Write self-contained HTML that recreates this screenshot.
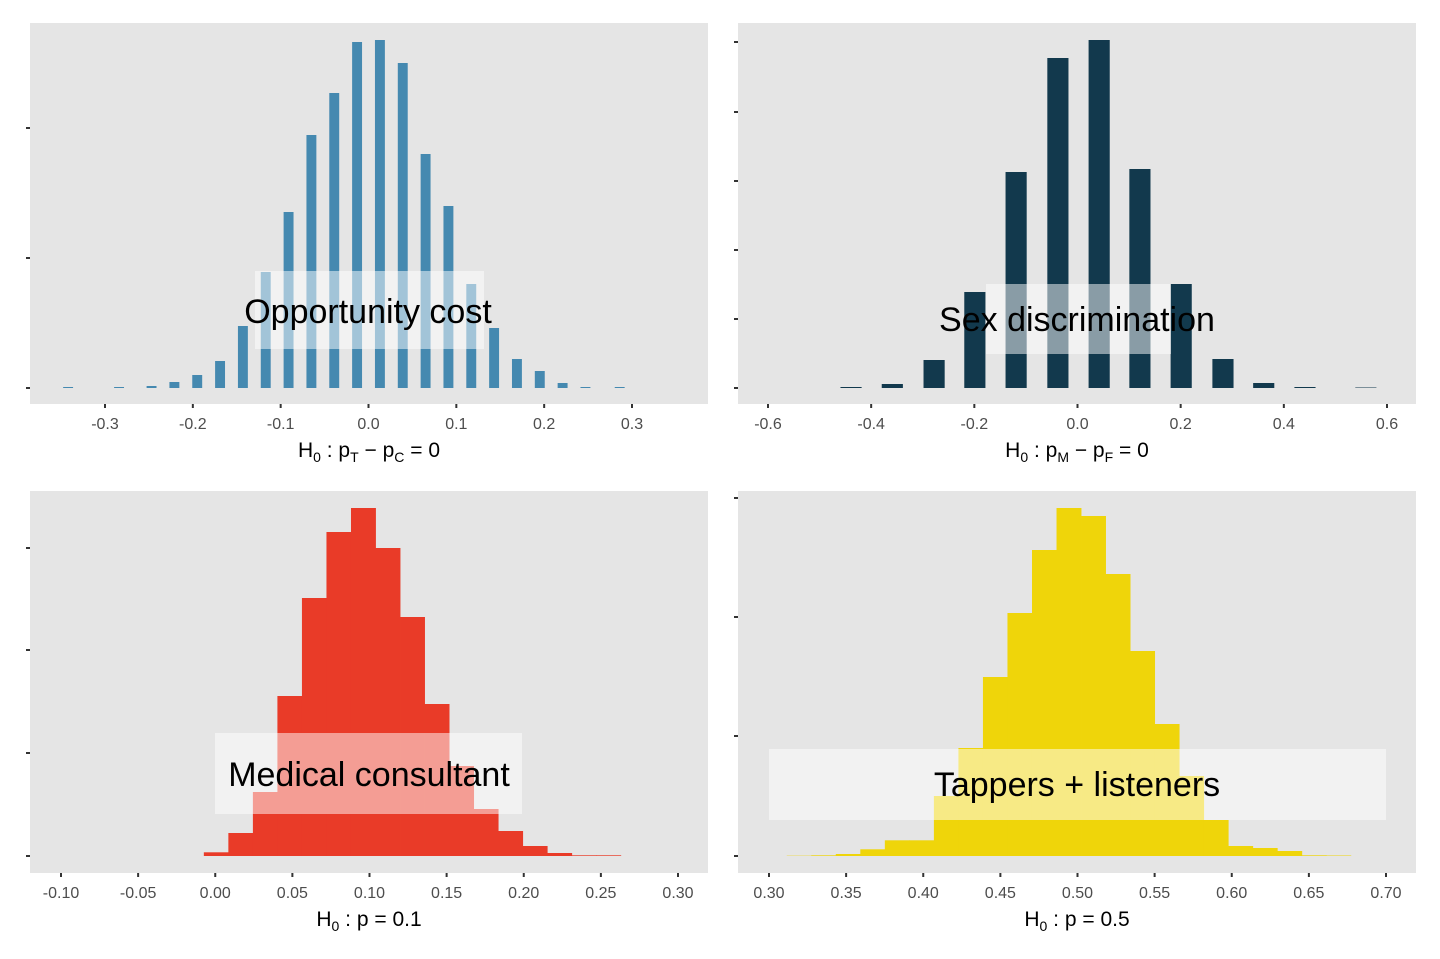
<!DOCTYPE html>
<html><head><meta charset="utf-8">
<style>
body{margin:0;background:#fff;}
svg{display:block;font-family:"Liberation Sans",Arial,sans-serif;}
.tick{fill:#4d4d4d;font-size:16px;}
.title{fill:#000;font-size:21px;}
.lab{fill:#000;font-size:34px;}
</style></head>
<body>
<svg id="chart" width="1440" height="959" viewBox="0 0 1440 959"></svg>
<script>
// ---- Panel 1: Opportunity cost (bar centers, heights)
const oppX = [-0.342,-0.284,-0.247,-0.221,-0.195,-0.169,-0.143,-0.117,-0.091,-0.065,-0.039,-0.013,0.013,0.039,0.065,0.091,0.117,0.143,0.169,0.195,0.221,0.247,0.286];
const oppY = [1,1,2,6,13,27,62,116,176,253,295,346,348,325,234,182,104,60,29,17,5,1,1];
const oppXTicks = [-0.3,-0.2,-0.1,0.0,0.1,0.2,0.3];
const oppXLabels = ["-0.3","-0.2","-0.1","0.0","0.1","0.2","0.3"];
const oppYTicks = [0,130,260];
// ---- Panel 2: Sex discrimination
const sexX = [-0.439,-0.359,-0.278,-0.199,-0.119,-0.038,0.042,0.121,0.201,0.282,0.361,0.441,0.559];
const sexY = [1,4,28,96,216,330,348,219,104,29,5,1,0.5];
const sexXTicks = [-0.6,-0.4,-0.2,0.0,0.2,0.4,0.6];
const sexXLabels = ["-0.6","-0.4","-0.2","0.0","0.2","0.4","0.6"];
const sexYTicks = [0,69,138,207,276,346];
// ---- Panel 3: Medical consultant (histogram)
const medStart = -0.0074;
const medBin = 0.0159;
const medCounts = [3.7,23,64,160,258,324,348,308,239,152,90,47,25,10,3,0.7,0.7];
const medXTicks = [-0.10,-0.05,0.00,0.05,0.10,0.15,0.20,0.25,0.30];
const medXLabels = ["-0.10","-0.05","0.00","0.05","0.10","0.15","0.20","0.25","0.30"];
const medYTicks = [0,103,206,308];
// ---- Panel 4: Tappers + listeners (histogram)
const tapStart = 0.3115;
const tapBin = 0.0159;
const tapCounts = [0.3,0.7,2,6.7,15.7,15.7,60,108,179,243,306,348,340,282,205,132,80,36,10,8,5,0.7,0.5];
const tapXTicks = [0.30,0.35,0.40,0.45,0.50,0.55,0.60,0.65,0.70];
const tapXLabels = ["0.30","0.35","0.40","0.45","0.50","0.55","0.60","0.65","0.70"];
const tapYTicks = [0,120,239,358];

const NS="http://www.w3.org/2000/svg";
const svg=document.getElementById('chart');
function mk(tag,attrs,parent){const e=document.createElementNS(NS,tag);for(const k in attrs)e.setAttribute(k,attrs[k]);(parent||svg).appendChild(e);return e;}

function panel(cfg){
  const g=mk('g',{});
  
  
  const bg=mk('rect',{x:cfg.px0,y:cfg.py0,width:cfg.px1-cfg.px0,height:cfg.py1-cfg.py0,fill:'#e5e5e5'},g);
  
  
  const sx=v=>cfg.a0px+(v-cfg.a0)*(cfg.a1px-cfg.a0px)/(cfg.a1-cfg.a0);
  const sy=v=>cfg.base-v;
  // marks
  if(cfg.bars){
    cfg.bars.x.forEach((xv,i)=>{
      const c=sx(xv), w=cfg.barW*(cfg.a1px-cfg.a0px)/(cfg.a1-cfg.a0);
      const r=mk('rect',{x:c-w/2,y:sy(cfg.bars.y[i]),width:w,height:cfg.bars.y[i],fill:cfg.color},g);
      
      
    });
  } else {
    cfg.hist.counts.forEach((h,i)=>{
      const l=sx(cfg.hist.start+i*cfg.hist.bin), rr=sx(cfg.hist.start+(i+1)*cfg.hist.bin);
      const r=mk('rect',{x:l,y:sy(h),width:rr-l+0.4,height:h,fill:cfg.color},g);
      
      
    });
  }
  // label box
  const box=mk('rect',{x:cfg.box[0],y:cfg.box[1],width:cfg.box[2]-cfg.box[0],height:cfg.box[3]-cfg.box[1],fill:'#ffffff','fill-opacity':0.5},g);
  
  
  const t=mk('text',{x:cfg.lx,y:cfg.ly,'text-anchor':'middle','dominant-baseline':'central',class:'lab'},g);
  t.textContent=cfg.label;
  
  
  // y ticks
  cfg.yTicks.forEach(v=>{
    const l=mk('line',{x1:cfg.px0-4,x2:cfg.px0,y1:sy(v),y2:sy(v),stroke:'#333','stroke-width':2},g);
    
    
  });
  // x ticks
  cfg.xTicks.forEach((v,i)=>{
    const x=sx(v);
    const l=mk('line',{x1:x,x2:x,y1:cfg.py1,y2:cfg.py1+4,stroke:'#333','stroke-width':2},g);
    
    
    const tx=mk('text',{x:x,y:cfg.py1+25,'text-anchor':'middle',class:'tick'},g);
    tx.textContent=cfg.xLabels[i];
    
    
  });
  // title
  const ti=mk('text',{x:(cfg.px0+cfg.px1)/2,y:cfg.py1+53,'text-anchor':'middle',class:'title'},g);
  
  
  ti.innerHTML=cfg.titleHTML;
}

panel({name:'opportunity-cost-panel',px0:30,px1:708,py0:23,py1:404,base:388,a0:-0.3,a0px:105,a1:0.3,a1px:632,
  bars:{x:oppX,y:oppY},barW:0.0113,color:'#4589b0',yTicks:oppYTicks,xTicks:oppXTicks,xLabels:oppXLabels,
  box:[255,271,484,349],lx:368,ly:312,label:'Opportunity cost',
  titleHTML:'H<tspan font-size="14" dy="5">0</tspan><tspan dy="-5"> :  p</tspan><tspan font-size="14" dy="5">T</tspan><tspan dy="-5"> − p</tspan><tspan font-size="14" dy="5">C</tspan><tspan dy="-5"> = 0</tspan>'});
panel({name:'sex-discrimination-panel',px0:738,px1:1416,py0:23,py1:404,base:388,a0:-0.6,a0px:768,a1:0.6,a1px:1387,
  bars:{x:sexX,y:sexY},barW:0.041,color:'#12394d',yTicks:sexYTicks,xTicks:sexXTicks,xLabels:sexXLabels,
  box:[986,284,1171,354],lx:1077,ly:320,label:'Sex discrimination',
  titleHTML:'H<tspan font-size="14" dy="5">0</tspan><tspan dy="-5"> :  p</tspan><tspan font-size="14" dy="5">M</tspan><tspan dy="-5"> − p</tspan><tspan font-size="14" dy="5">F</tspan><tspan dy="-5"> = 0</tspan>'});
panel({name:'medical-consultant-panel',px0:30,px1:708,py0:491,py1:873,base:856,a0:-0.1,a0px:61,a1:0.3,a1px:678,
  hist:{start:medStart,bin:medBin,counts:medCounts},color:'#e93b28',yTicks:medYTicks,xTicks:medXTicks,xLabels:medXLabels,
  box:[215,733,522,814],lx:369,ly:775,label:'Medical consultant',
  titleHTML:'H<tspan font-size="14" dy="5">0</tspan><tspan dy="-5"> :  p = 0.1</tspan>'});
panel({name:'tappers-listeners-panel',px0:738,px1:1416,py0:491,py1:873,base:856,a0:0.3,a0px:769,a1:0.7,a1px:1386,
  hist:{start:tapStart,bin:tapBin,counts:tapCounts},color:'#efd50a',yTicks:tapYTicks,xTicks:tapXTicks,xLabels:tapXLabels,
  box:[769,749,1386,820],lx:1077,ly:785,label:'Tappers + listeners',
  titleHTML:'H<tspan font-size="14" dy="5">0</tspan><tspan dy="-5"> :  p = 0.5</tspan>'});
</script>
</body></html>
